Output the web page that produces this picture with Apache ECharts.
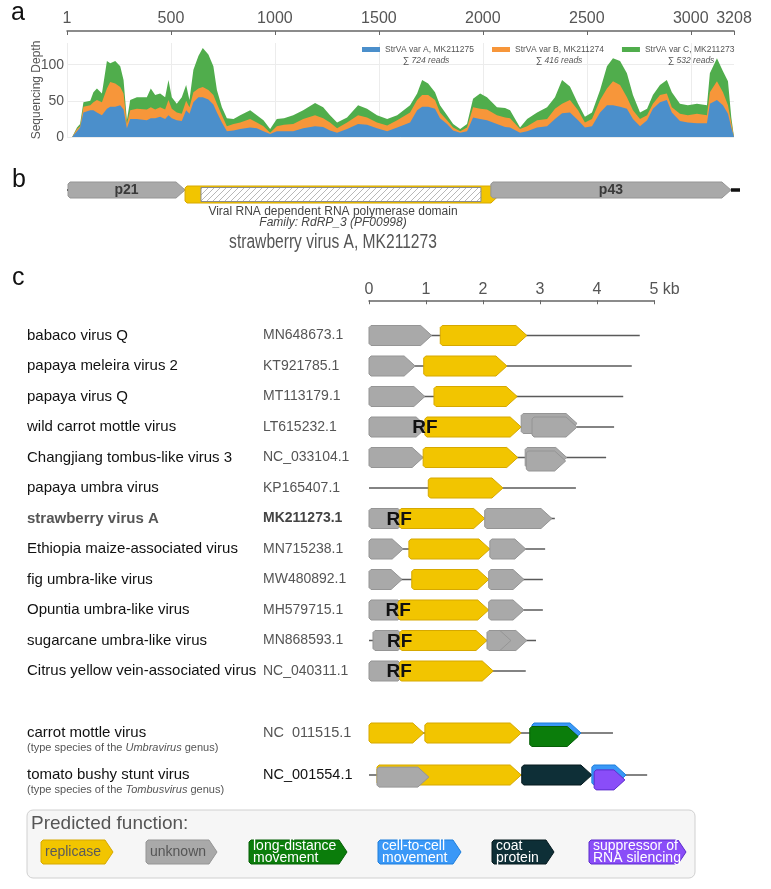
<!DOCTYPE html>
<html><head><meta charset="utf-8">
<script src="https://cdn.jsdelivr.net/npm/echarts@6/dist/echarts.min.js"></script>
<style>html,body{margin:0;padding:0;background:#fff}#c{width:771px;height:889px}</style>
</head><body><div id="c"></div>
<script>
// ---------- Panel a: coverage ----------
const covPos = [1,25,48,63,79,112,127,144,168,192,208,232,256,272,288,304,336,384,403,424,448,472,488,504,528,552,573,589,608,632,653,680,704,721,745,769,801,833,881,913,945,977,1009,1044,1088,1136,1193,1232,1265,1299,1347,1400,1443,1491,1540,1588,1650,1684,1708,1737,1770,1794,1828,1857,1891,1924,1953,1987,2020,2068,2107,2131,2179,2213,2261,2309,2347,2381,2419,2458,2491,2525,2564,2597,2626,2660,2693,2722,2756,2790,2818,2852,2885,2909,2948,2986,3030,3078,3092,3126,3155,3179,3195,3208];
const covA = [0,0,8,13,34,37,37,34,30,39,42,42,44,38,12,25,25,23,26,26,28,25,30,26,23,22,37,32,48,55,55,52,45,34,20,8,9,11,13,12,8,4,8,8,8,12,15,14,9,6,11,18,17,12,8,13,20,37,42,42,39,26,18,9,6,8,27,25,23,18,14,13,6,8,13,15,25,33,34,23,13,15,34,44,44,42,39,25,15,23,39,48,51,34,22,20,19,19,46,51,44,32,13,0];
const covB = [0,0,3,2,8,7,11,17,18,28,34,32,25,22,6,12,14,15,15,12,13,13,21,13,11,10,13,9,14,12,14,13,13,12,10,7,9,9,12,8,7,2,7,9,10,13,15,12,11,6,9,12,10,8,8,10,14,14,16,16,12,8,5,4,2,5,14,14,15,12,13,13,5,7,10,10,14,13,17,14,7,10,17,23,33,30,16,12,10,7,7,10,9,7,10,10,13,11,16,26,18,12,7,0];
const covC = [0,0,2,3,6,6,14,16,12,38,26,31,29,19,5,14,16,17,26,20,19,17,28,16,12,23,22,10,31,45,54,49,40,19,11,11,7,10,12,10,8,5,10,9,12,12,17,15,10,8,7,14,12,10,9,7,10,9,21,16,11,10,7,5,3,5,12,21,17,11,13,11,2,10,11,16,16,33,19,9,8,9,14,31,32,33,33,21,9,9,12,14,19,21,14,14,14,14,26,32,29,33,7,0];
const covNames = ['StrVA var A, MK211275','StrVA var B, MK211274','StrVA var C, MK211273'];
const covReads = ['724','416','532'];
const covColors = ['#4b8fcb','#f7963a','#50ad4c'];
const covMax = 3208;

// ---------- Panel b: genome map of StrVA (nt) ----------
const bGenes = [ // [start, end, function, label]
  [5, 570, 'unk', 'p21'],
  [570, 2091, 'rep', ''],
  [2047, 3206, 'unk', 'p43']
];
const bDomain = [647, 1999];
const bTail = [3206, 3250];

// ---------- Panel c: genome organisations (kb) ----------
const rowNames = ['babaco virus Q','papaya meleira virus 2','papaya virus Q','wild carrot mottle virus','Changjiang tombus-like virus 3','papaya umbra virus','strawberry virus A','Ethiopia maize-associated virus','fig umbra-like virus','Opuntia umbra-like virus','sugarcane umbra-like virus','Citrus yellow vein-associated virus'];
const rowAcc = ['MN648673.1','KT921785.1','MT113179.1','LT615232.1','NC_033104.1','KP165407.1','MK211273.1','MN715238.1','MW480892.1','MH579715.1','MN868593.1','NC_040311.1'];
const rowLen = [4.75,4.61,4.46,4.30,4.16,3.63,3.26,3.09,3.05,3.05,2.93,2.75];
const refNames = ['carrot mottle virus','tomato bushy stunt virus'];
const refAcc = ['NC  011515.1','NC_001554.1'];
const refGenus = ['Umbravirus','Tombusvirus'];
const refLen = [4.28, 4.88];
// [row, start kb, end kb, function, layer, readthrough label]
const genes = [
  [0,0,1.10,'unk',0,0],[0,1.25,2.77,'rep',0,0],
  [1,0,0.81,'unk',0,0],[1,0.96,2.42,'rep',0,0],
  [2,0,0.98,'unk',0,0],[2,1.14,2.60,'rep',0,0],
  [3,0,1.02,'unk',0,0],[3,0.98,2.67,'rep',0,1],[3,2.67,3.65,'unk',-1,0],[3,2.86,3.65,'unk',0,0],
  [4,0,0.95,'unk',0,0],[4,0.95,2.61,'rep',0,0],[4,2.74,3.47,'unk',0,0],[4,2.76,3.45,'unk',1,0],
  [5,1.04,2.35,'rep',0,0],
  [6,0,0.70,'unk',0,0],[6,0.53,2.03,'rep',0,1],[6,2.03,3.21,'unk',0,0],
  [7,0,0.60,'unk',0,0],[7,0.70,2.12,'rep',0,0],[7,2.12,2.75,'unk',0,0],
  [8,0,0.58,'unk',0,0],[8,0.75,2.10,'rep',0,0],[8,2.10,2.72,'unk',0,0],
  [9,0,0.70,'unk',0,0],[9,0.51,2.10,'rep',0,1],[9,2.10,2.72,'unk',0,0],
  [10,0.07,0.70,'unk',0,0],[10,0.54,2.07,'rep',0,1],[10,2.10,2.77,'unk',0,0],[10,2.07,2.49,'unk',0,0],
  [11,0,0.70,'unk',0,0],[11,0.53,2.18,'rep',0,1]
];
const refGenes = [
  [0,0,0.96,'rep',0,0],[0,0.98,2.67,'rep',0,0],[0,2.86,3.72,'cc',0,0],[0,2.82,3.67,'ld',1,0],
  [1,0.14,2.67,'rep',0,0],[1,0.14,1.05,'unk',0.6,0],[1,2.68,3.91,'cp',0,0],[1,3.91,4.51,'cc',0,0],[1,3.95,4.49,'sup',1.4,0]
];
const funcKeys = ['rep','unk','ld','cc','cp','sup'];
const funcLabels = ['replicase','unknown','long-distance\nmovement','cell-to-cell\nmovement','coat\nprotein','suppressor of\nRNA silencing'];

// ---------- styles ----------
const FONT = '"Liberation Sans", Arial, sans-serif';
const FUNC = {
  rep: {fill:'#f2c500', stroke:'#d6a800', text:'#5a5a5a'},
  unk: {fill:'#a9a9a9', stroke:'#959595', text:'#555'},
  ld:  {fill:'#0b7d0b', stroke:'#066006', text:'#fff'},
  cc:  {fill:'#3a98f7', stroke:'#1f7fdc', text:'#fff'},
  cp:  {fill:'#0e2f37', stroke:'#061a1f', text:'#fff'},
  sup: {fill:'#8a4df8', stroke:'#5d2ccc', text:'#fff'}
};
function arrowPts(x0, x1, yc, h, tip) {
  const w = x1 - x0, t = Math.min(tip, w * 0.6), r = 2;
  return [[x0 + r, yc - h/2], [x1 - t, yc - h/2], [x1, yc], [x1 - t, yc + h/2], [x0 + r, yc + h/2], [x0, yc + h/2 - r], [x0, yc - h/2 + r]];
}
function geneRender(list) {
  return function (params, api) {
    const g = list[params.dataIndex];
    const p0 = api.coord([g[1], g[0]]), p1 = api.coord([g[2], g[0]]);
    const yc = p0[1] + g[4] * 3.5, c = FUNC[g[3]];
    const ch = [{type:'polygon', shape:{points: arrowPts(p0[0], p1[0], yc, 20, 11)}, style:{fill:c.fill, stroke:c.stroke, lineWidth:1}}];
    if (g[5]) ch.push({type:'text', x:p0[0], y:yc + 1, style:{text:'RF', font:'bold 19px ' + FONT, fill:'#111', align:'center', verticalAlign:'middle', textAlign:'center', textVerticalAlign:'middle'}});
    return {type:'group', children: ch};
  };
}
function lineRender(lens) {
  return function (params, api) {
    const i = params.dataIndex;
    const a = api.coord([0, i]), b = api.coord([lens[i], i]);
    return {type:'line', shape:{x1:a[0], y1:a[1], x2:b[0], y2:b[1]}, style:{stroke:'#5a5a5a', lineWidth:1.5}};
  };
}
// hatch pattern
const pc = document.createElement('canvas'); pc.width = 6; pc.height = 6;
const pctx = pc.getContext('2d');
pctx.fillStyle = '#fff'; pctx.fillRect(0, 0, 6, 6);
pctx.strokeStyle = '#b8b8b8'; pctx.lineWidth = 1;
pctx.beginPath(); pctx.moveTo(0, 6); pctx.lineTo(6, 0); pctx.moveTo(-3, 3); pctx.lineTo(3, -3); pctx.moveTo(3, 9); pctx.lineTo(9, 3); pctx.stroke();

function bRender(params, api) {
  const g = bGenes[params.dataIndex];
  const p0 = api.coord([g[0], 0]), p1 = api.coord([g[1], 0]);
  const c = FUNC[g[2]];
  const ch = [];
  if (g[2] === 'rep') {
    const yc = p0[1] + 4.5;
    ch.push({type:'polygon', shape:{points: arrowPts(p0[0], p1[0], yc, 17, 9)}, style:{fill:c.fill, stroke:c.stroke, lineWidth:1}});
    const d0 = api.coord([bDomain[0], 0]), d1 = api.coord([bDomain[1], 0]);
    ch.push({type:'rect', shape:{x:d0[0], y:yc - 7, width:d1[0] - d0[0], height:14}, style:{fill:{image: pc, repeat:'repeat'}, stroke:'#8a8a8a', lineWidth:1}});
  } else {
    const yc = p0[1];
    ch.push({type:'polygon', shape:{points: arrowPts(p0[0], p1[0], yc, 16, 9)}, style:{fill:c.fill, stroke:c.stroke, lineWidth:1}});
    ch.push({type:'text', x:(p0[0] + p1[0]) / 2, y:yc, style:{text:g[3], font:'bold 14px ' + FONT, fill:'#3a3a3a', align:'center', verticalAlign:'middle', textAlign:'center', textVerticalAlign:'middle'}});
  }
  return {type:'group', children: ch};
}
function bEndsRender(params, api) {
  const a = api.coord([0, 0]), s = api.coord([bGenes[0][0], 0]);
  const t0 = api.coord([bTail[0], 0]), t1 = api.coord([bTail[1], 0]);
  return {type:'group', children:[
    {type:'line', shape:{x1:a[0], y1:a[1], x2:s[0], y2:s[1]}, style:{stroke:'#444', lineWidth:2}},
    {type:'line', shape:{x1:t0[0], y1:t0[1], x2:t1[0], y2:t1[1]}, style:{stroke:'#111', lineWidth:3.5}}
  ]};
}

// legend (panel c) graphics
const legX = [41, 146, 249, 378, 492, 589];
const legW = [72, 71, 98, 83, 62, 97];
const legendGraphics = [];
funcKeys.forEach((k, i) => {
  const c = FUNC[k], x0 = legX[i], x1 = legX[i] + legW[i], yc = 852;
  legendGraphics.push({type:'polygon', z:100, shape:{points: arrowPts(x0, x1, yc, 24, 8)}, style:{fill:c.fill, stroke:c.stroke, lineWidth:1}});
  legendGraphics.push({type:'text', z:101, x:x0 + 4, y:yc, style:{text:funcLabels[i], font:'14px ' + FONT, lineHeight:12, fill:c.text, textAlign:'left', textVerticalAlign:'middle', align:'left', verticalAlign:'middle'}});
});

// cumulative (stacked) tops computed from the three series
const stackB = covA.map((v, i) => v + covB[i]);
const stackC = stackB.map((v, i) => v + covC[i]);
const stackTops = [covA, stackB, stackC];

const readsX = [426, 559, 691];
const chart = echarts.init(document.getElementById('c'), null, {renderer:'canvas', width:771, height:889});
const option = {
  backgroundColor:'#fff',
  animation:false,
  textStyle:{fontFamily: FONT},
  grid:[
    {left:67, top:43, width:667, height:94},
    {left:67, top:180, width:673, height:20},
    {left:369, top:320.25, width:285, height:366},
    {left:369, top:712, width:285, height:84}
  ],
  legend:{
    left:357, top:40, itemWidth:18, itemHeight:5, itemGap:18, icon:'rect', z:20,
    data: covNames, textStyle:{fontSize:8.5, color:'#555', fontFamily:FONT}
  },
  xAxis:[
    {gridIndex:0, type:'value', min:0, max:covMax, interval:500, position:'top', offset:12,
     axisLine:{show:true, onZero:false, lineStyle:{color:'#666', width:1.5}}, axisTick:{show:true, inside:true, length:4, lineStyle:{color:'#666'}},
     axisLabel:{fontSize:16, color:'#555', margin:4, formatter: v => v === 0 ? '1' : String(v)},
     splitLine:{show:true, showMaxLine:false, lineStyle:{color:'#ececec'}}},
    {gridIndex:1, type:'value', min:0, max:3250, show:false},
    {gridIndex:2, type:'value', min:0, max:5, interval:1, position:'top', offset:20,
     axisLine:{show:true, onZero:false, lineStyle:{color:'#666', width:1.5}}, axisTick:{show:true, inside:true, length:4, lineStyle:{color:'#666'}},
     axisLabel:{fontSize:16, color:'#555', margin:3, formatter: v => v === 5 ? '{p|}{n|5}{k| kb}' : String(v),
       rich:{p:{width:21}, n:{fontSize:16, color:'#555'}, k:{fontSize:16, color:'#555'}}},
     splitLine:{show:false}},
    {gridIndex:3, type:'value', min:0, max:5, show:false}
  ],
  yAxis:[
    {gridIndex:0, type:'value', min:0, max:130, interval:50,
     name:'Sequencing Depth', nameLocation:'middle', nameGap:24, nameMoveOverlap:false, nameTextStyle:{fontSize:12, color:'#555'},
     axisLine:{show:false}, axisTick:{show:false},
     axisLabel:{fontSize:14, color:'#555', margin:3, formatter: v => (v % 50 === 0 ? String(v) : '')},
     splitLine:{show:true, showMaxLine:false, lineStyle:{color:'#ececec'}}},
    {gridIndex:1, type:'category', data:['b'], show:false},
    {gridIndex:2, type:'category', inverse:true, data:rowNames,
     axisLine:{show:false}, axisTick:{show:false},
     axisLabel:{align:'left', margin:342,
       formatter:(v, i) => i === 6 ? `{nb|${rowNames[i]}}{ab|${rowAcc[i]}}` : `{n|${rowNames[i]}}{a|${rowAcc[i]}}`,
       rich:{
         n:{width:236, fontSize:15, color:'#111'},
         a:{fontSize:14, color:'#555'},
         nb:{width:236, fontSize:15, color:'#555', fontWeight:'bold'},
         ab:{fontSize:14, color:'#444', fontWeight:'bold'}
       }}},
    {gridIndex:3, type:'category', inverse:true, data:refNames,
     axisLine:{show:false}, axisTick:{show:false},
     axisLabel:{align:'left', margin:342, padding:[13,0,0,0],
       formatter:(v, i) => `{n|${refNames[i]}}{${i === 1 ? 'ad' : 'a'}|${refAcc[i]}}\n{s|(type species of the }{si|${refGenus[i]}}{s| genus)}`,
       rich:{
         n:{width:236, fontSize:15, color:'#111', lineHeight:17},
         a:{fontSize:14.5, color:'#555', lineHeight:17},
         ad:{fontSize:14.5, color:'#111', lineHeight:17},
         s:{fontSize:11, color:'#555', lineHeight:13},
         si:{fontSize:11, color:'#555', fontStyle:'italic', lineHeight:13}
       }}}
  ],
  series:[
    ...covNames.map((nm, k) => ({
      name:nm, type:'line', xAxisIndex:0, yAxisIndex:0, symbol:'none', smooth:false, z:4 - k,
      lineStyle:{width:0}, itemStyle:{color:covColors[k]}, areaStyle:{color:covColors[k], opacity:1},
      data: covPos.map((p, i) => [p, stackTops[k][i]])
    })),
    {type:'custom', xAxisIndex:1, yAxisIndex:1, renderItem:bEndsRender, data:[[0, 0]], silent:true},
    {type:'custom', xAxisIndex:1, yAxisIndex:1, renderItem:bRender, data:bGenes.map(g => [g[0], 0, g[1]]), encode:{x:[0, 2], y:1}, silent:true},
    {type:'custom', xAxisIndex:2, yAxisIndex:2, renderItem:lineRender(rowLen), data:rowLen.map((L, i) => [0, i, L]), encode:{x:[0, 2], y:1}, silent:true},
    {type:'custom', xAxisIndex:2, yAxisIndex:2, renderItem:geneRender(genes), data:genes.map(g => [g[1], g[0], g[2]]), encode:{x:[0, 2], y:1}, silent:true, z:3},
    {type:'custom', xAxisIndex:3, yAxisIndex:3, renderItem:lineRender(refLen), data:refLen.map((L, i) => [0, i, L]), encode:{x:[0, 2], y:1}, silent:true},
    {type:'custom', xAxisIndex:3, yAxisIndex:3, renderItem:geneRender(refGenes), data:refGenes.map(g => [g[1], g[0], g[2]]), encode:{x:[0, 2], y:1}, silent:true, z:3}
  ],
  graphic:[
    {type:'text', left:11, top:1, style:{text:'a', font:'25px ' + FONT, fill:'#111'}},
    {type:'text', left:12, top:168, style:{text:'b', font:'25px ' + FONT, fill:'#111'}},
    {type:'text', left:12, top:266, style:{text:'c', font:'25px ' + FONT, fill:'#111'}},
    ...covReads.map((r, k) => ({type:'text', z:100, x:readsX[k], y:61, style:{text:`{s|∑ }{r|${r} reads}`, rich:{s:{fontSize:9, fill:'#555'}, r:{fontSize:8.5, fontStyle:'italic', fill:'#555'}}, align:'center', verticalAlign:'middle', textAlign:'center', textVerticalAlign:'middle', font:'8.5px ' + FONT}})),
    {type:'text', x:333, y:212, style:{text:'Viral RNA dependent RNA polymerase domain', font:'12px ' + FONT, fill:'#444', align:'center', verticalAlign:'middle', textAlign:'center', textVerticalAlign:'middle'}},
    {type:'text', x:333, y:223, style:{text:'Family: RdRP_3 (PF00998)', font:'italic 12px ' + FONT, fill:'#444', align:'center', verticalAlign:'middle', textAlign:'center', textVerticalAlign:'middle'}},
    {type:'text', x:333, y:243, scaleX:0.8, style:{text:'strawberry virus A, MK211273', font:'19.5px ' + FONT, fill:'#555', align:'center', verticalAlign:'middle', textAlign:'center', textVerticalAlign:'middle'}},
    {type:'rect', shape:{x:27, y:810, width:668, height:68, r:6}, style:{fill:'#f6f6f6', stroke:'#d0d0d0', lineWidth:1}, z:-1},
    {type:'text', x:31, y:824, style:{text:'Predicted function:', font:'19px ' + FONT, fill:'#555', align:'left', verticalAlign:'middle', textAlign:'left', textVerticalAlign:'middle'}},
    ...legendGraphics
  ]
};
chart.setOption(option);
</script>
</body></html>
